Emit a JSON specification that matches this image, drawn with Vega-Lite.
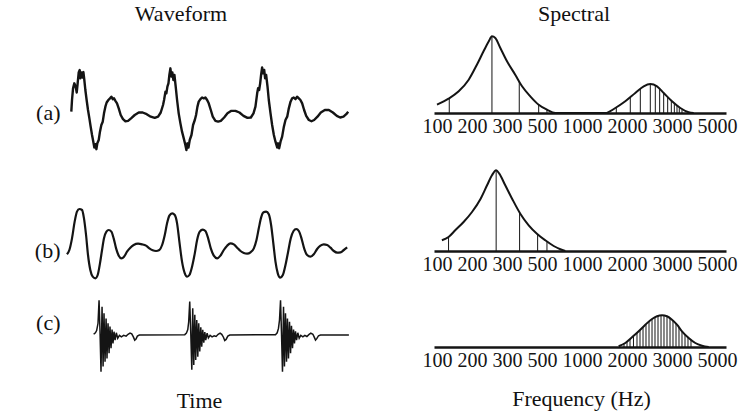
{
  "$schema": "https://vega.github.io/schema/vega-lite/v6.json",
  "autosize": {"type": "pad"},
  "padding": {"left": 34, "top": 3, "right": 5, "bottom": 5},
  "background": "white",
  "bounds": "full",
  "spacing": 70,
  "config": {
    "view": {"stroke": null},
    "font": "Liberation Serif",
    "title": {"font": "Liberation Serif", "fontSize": 22, "fontWeight": "normal", "color": "#111"},
    "axis": {"titleFont": "Liberation Serif", "titleFontSize": 22, "titleFontWeight": "normal", "titleColor": "#111", "labelFont": "Liberation Serif", "grid": false}
  },
  "datasets": {
    "waveA": [
      {"t":0.81,"v":-0.08},{"t":0.87,"v":0.2},{"t":0.96,"v":0.48},{"t":1.07,"v":0.6},{"t":1.19,"v":0.52},{"t":1.28,"v":0.38},{"t":1.36,"v":0.6},{"t":1.45,"v":0.86},{"t":1.54,"v":0.92},{"t":1.59,"v":0.72},{"t":1.68,"v":0.86},{"t":1.77,"v":0.74},{"t":1.86,"v":0.87},{"t":1.94,"v":0.68},{"t":2.03,"v":0.44},{"t":2.14,"v":0.2},{"t":2.26,"v":-0.04},{"t":2.38,"v":-0.24},{"t":2.49,"v":-0.44},{"t":2.61,"v":-0.64},{"t":2.72,"v":-0.8},{"t":2.81,"v":-0.94},{"t":2.9,"v":-0.86},{"t":2.99,"v":-0.98},{"t":3.07,"v":-0.84},{"t":3.19,"v":-0.76},{"t":3.3,"v":-0.56},{"t":3.42,"v":-0.4},{"t":3.54,"v":-0.32},{"t":3.65,"v":-0.12},{"t":3.77,"v":0.04},{"t":3.88,"v":0.14},{"t":4.03,"v":0.2},{"t":4.17,"v":0.24},{"t":4.29,"v":0.28},{"t":4.41,"v":0.22},{"t":4.52,"v":0.24},{"t":4.64,"v":0.18},{"t":4.78,"v":0.12},{"t":4.93,"v":0},{"t":5.1,"v":-0.16},{"t":5.3,"v":-0.26},{"t":5.51,"v":-0.31},{"t":5.74,"v":-0.3},{"t":6.0,"v":-0.24},{"t":6.32,"v":-0.16},{"t":6.67,"v":-0.1},{"t":7.01,"v":-0.1},{"t":7.36,"v":-0.14},{"t":7.71,"v":-0.2},{"t":8.06,"v":-0.23},{"t":8.35,"v":-0.2},{"t":8.58,"v":-0.1},{"t":8.78,"v":0.08},
      {"t":8.87,"v":0.2},{"t":8.99,"v":0.4},{"t":9.07,"v":0.36},{"t":9.16,"v":0.52},{"t":9.25,"v":0.6},{"t":9.33,"v":0.8},{"t":9.42,"v":0.96},{"t":9.51,"v":0.76},{"t":9.59,"v":0.86},{"t":9.68,"v":0.68},{"t":9.77,"v":0.8},{"t":9.88,"v":0.52},{"t":10.0,"v":0.2},{"t":10.14,"v":-0.12},{"t":10.29,"v":-0.36},{"t":10.43,"v":-0.56},{"t":10.58,"v":-0.72},{"t":10.72,"v":-0.88},{"t":10.81,"v":-1.0},{"t":10.9,"v":-0.84},{"t":10.99,"v":-0.94},{"t":11.1,"v":-0.76},{"t":11.25,"v":-0.64},{"t":11.39,"v":-0.4},{"t":11.54,"v":-0.28},{"t":11.65,"v":-0.16},{"t":11.77,"v":0.04},{"t":11.88,"v":0.16},{"t":12.03,"v":0.22},{"t":12.17,"v":0.26},{"t":12.32,"v":0.24},{"t":12.46,"v":0.26},{"t":12.61,"v":0.2},{"t":12.75,"v":0.12},{"t":12.93,"v":-0.04},{"t":13.1,"v":-0.2},{"t":13.33,"v":-0.3},{"t":13.57,"v":-0.32},{"t":13.8,"v":-0.3},{"t":14.09,"v":-0.22},{"t":14.38,"v":-0.12},{"t":14.72,"v":-0.06},{"t":15.07,"v":-0.06},{"t":15.42,"v":-0.1},{"t":15.77,"v":-0.18},{"t":16.12,"v":-0.23},{"t":16.41,"v":-0.22},{"t":16.64,"v":-0.12},{"t":16.81,"v":0.04},
      {"t":16.96,"v":0.36},{"t":17.04,"v":0.48},{"t":17.13,"v":0.44},{"t":17.22,"v":0.6},{"t":17.3,"v":0.8},{"t":17.39,"v":0.98},{"t":17.48,"v":0.84},{"t":17.57,"v":0.92},{"t":17.65,"v":0.72},{"t":17.74,"v":0.8},{"t":17.86,"v":0.52},{"t":17.97,"v":0.2},{"t":18.12,"v":-0.12},{"t":18.26,"v":-0.4},{"t":18.41,"v":-0.64},{"t":18.55,"v":-0.8},{"t":18.7,"v":-0.94},{"t":18.78,"v":-0.84},{"t":18.87,"v":-0.96},{"t":18.99,"v":-0.8},{"t":19.13,"v":-0.68},{"t":19.28,"v":-0.44},{"t":19.42,"v":-0.28},{"t":19.57,"v":-0.2},{"t":19.71,"v":0.0},{"t":19.86,"v":0.16},{"t":20.0,"v":0.24},{"t":20.14,"v":0.26},{"t":20.29,"v":0.22},{"t":20.43,"v":0.28},{"t":20.58,"v":0.24},{"t":20.72,"v":0.2},{"t":20.87,"v":0.12},{"t":21.04,"v":-0.04},{"t":21.22,"v":-0.18},{"t":21.45,"v":-0.28},{"t":21.68,"v":-0.31},{"t":21.91,"v":-0.28},{"t":22.2,"v":-0.2},{"t":22.49,"v":-0.1},{"t":22.84,"v":-0.04},{"t":23.19,"v":-0.04},{"t":23.54,"v":-0.1},{"t":23.88,"v":-0.18},{"t":24.17,"v":-0.22},{"t":24.46,"v":-0.2},{"t":24.7,"v":-0.14},{"t":24.87,"v":-0.08}
    ],
    "waveB": [
      {"t":0.43,"v":-0.28},{"t":0.64,"v":-0.15},{"t":0.87,"v":0.2},{"t":1.1,"v":0.7},{"t":1.3,"v":1.0},{"t":1.51,"v":1.08},{"t":1.74,"v":1.05},{"t":1.91,"v":0.8},{"t":2.09,"v":0.3},{"t":2.26,"v":-0.3},{"t":2.46,"v":-0.75},{"t":2.67,"v":-0.95},{"t":2.9,"v":-1.0},{"t":3.1,"v":-0.9},{"t":3.3,"v":-0.55},{"t":3.48,"v":-0.15},{"t":3.65,"v":0.2},{"t":3.86,"v":0.4},{"t":4.06,"v":0.45},{"t":4.29,"v":0.4},{"t":4.49,"v":0.2},{"t":4.7,"v":-0.1},{"t":4.93,"v":-0.32},{"t":5.16,"v":-0.4},{"t":5.39,"v":-0.35},{"t":5.65,"v":-0.2},{"t":5.94,"v":-0.08},{"t":6.23,"v":0},{"t":6.61,"v":0.04},{"t":6.96,"v":0.02},{"t":7.3,"v":-0.02},{"t":7.59,"v":-0.1},{"t":7.88,"v":-0.16},{"t":8.17,"v":-0.18},{"t":8.46,"v":-0.15},{"t":8.7,"v":0},
      {"t":8.93,"v":0.3},{"t":9.13,"v":0.65},{"t":9.33,"v":0.88},{"t":9.57,"v":0.95},{"t":9.8,"v":0.9},{"t":10.0,"v":0.65},{"t":10.2,"v":0.1},{"t":10.43,"v":-0.5},{"t":10.67,"v":-0.85},{"t":10.87,"v":-0.95},{"t":11.07,"v":-0.9},{"t":11.3,"v":-0.65},{"t":11.54,"v":-0.25},{"t":11.74,"v":0.15},{"t":11.97,"v":0.4},{"t":12.23,"v":0.46},{"t":12.46,"v":0.42},{"t":12.7,"v":0.2},{"t":12.93,"v":-0.1},{"t":13.19,"v":-0.32},{"t":13.48,"v":-0.4},{"t":13.77,"v":-0.32},{"t":14.06,"v":-0.15},{"t":14.35,"v":-0.02},{"t":14.64,"v":0.05},{"t":14.93,"v":0.02},{"t":15.22,"v":-0.08},{"t":15.51,"v":-0.18},{"t":15.8,"v":-0.24},{"t":16.09,"v":-0.26},{"t":16.38,"v":-0.22},{"t":16.67,"v":-0.1},
      {"t":16.9,"v":0.15},{"t":17.1,"v":0.5},{"t":17.3,"v":0.82},{"t":17.51,"v":0.98},{"t":17.74,"v":1.0},{"t":17.97,"v":0.92},{"t":18.17,"v":0.6},{"t":18.38,"v":0},{"t":18.55,"v":-0.5},{"t":18.75,"v":-0.85},{"t":18.96,"v":-0.98},{"t":19.19,"v":-0.9},{"t":19.42,"v":-0.6},{"t":19.65,"v":-0.2},{"t":19.88,"v":0.2},{"t":20.12,"v":0.42},{"t":20.35,"v":0.48},{"t":20.58,"v":0.42},{"t":20.81,"v":0.2},{"t":21.04,"v":-0.1},{"t":21.3,"v":-0.3},{"t":21.59,"v":-0.35},{"t":21.88,"v":-0.28},{"t":22.17,"v":-0.12},{"t":22.46,"v":-0.02},{"t":22.75,"v":0.02},{"t":23.04,"v":0},{"t":23.33,"v":-0.08},{"t":23.62,"v":-0.18},{"t":23.91,"v":-0.23},{"t":24.2,"v":-0.22},{"t":24.49,"v":-0.15},{"t":24.78,"v":-0.07}
    ],
    "waveC": [
      {"t":2.75,"v":0.02},{"t":2.9,"v":0.06},{"t":3.01,"v":0.12},{"t":3.13,"v":0.32},{"t":3.22,"v":0.95},{"t":3.3,"v":0.14},{"t":3.39,"v":-1.0},{"t":3.48,"v":0.77},{"t":3.57,"v":-0.86},{"t":3.65,"v":0.59},{"t":3.74,"v":-0.73},{"t":3.83,"v":0.45},{"t":3.91,"v":-0.64},{"t":4.0,"v":0.32},{"t":4.09,"v":-0.5},{"t":4.17,"v":0.23},{"t":4.26,"v":-0.36},{"t":4.35,"v":0.15},{"t":4.43,"v":-0.23},{"t":4.52,"v":0.09},{"t":4.61,"v":-0.14},{"t":4.72,"v":0.06},{"t":4.84,"v":-0.09},{"t":4.99,"v":-0.01},{"t":5.16,"v":-0.05},{"t":5.36,"v":-0.01},{"t":5.57,"v":-0.03},{"t":5.74,"v":0.02},{"t":5.91,"v":0.05},{"t":6.06,"v":0.03},{"t":6.2,"v":-0.05},{"t":6.32,"v":-0.14},{"t":6.43,"v":-0.11},{"t":6.55,"v":-0.03},{"t":6.72,"v":0},
      {"t":10.67,"v":0.01},{"t":10.81,"v":0.05},{"t":10.93,"v":0.15},{"t":11.01,"v":0.36},{"t":11.1,"v":0.91},{"t":11.19,"v":0.05},{"t":11.28,"v":-0.95},{"t":11.36,"v":0.73},{"t":11.45,"v":-0.82},{"t":11.54,"v":0.55},{"t":11.62,"v":-0.68},{"t":11.71,"v":0.41},{"t":11.8,"v":-0.59},{"t":11.88,"v":0.32},{"t":11.97,"v":-0.45},{"t":12.06,"v":0.21},{"t":12.14,"v":-0.32},{"t":12.23,"v":0.14},{"t":12.32,"v":-0.21},{"t":12.41,"v":0.08},{"t":12.49,"v":-0.14},{"t":12.61,"v":0.05},{"t":12.72,"v":-0.08},{"t":12.87,"v":-0.01},{"t":13.04,"v":-0.05},{"t":13.22,"v":-0.02},{"t":13.39,"v":-0.04},{"t":13.57,"v":0.02},{"t":13.74,"v":0.05},{"t":13.88,"v":0.02},{"t":14.03,"v":-0.06},{"t":14.14,"v":-0.15},{"t":14.26,"v":-0.12},{"t":14.41,"v":-0.03},{"t":14.58,"v":0},
      {"t":18.55,"v":0.01},{"t":18.7,"v":0.06},{"t":18.81,"v":0.18},{"t":18.9,"v":0.41},{"t":18.99,"v":0.95},{"t":19.07,"v":0.09},{"t":19.16,"v":-1.0},{"t":19.25,"v":0.77},{"t":19.33,"v":-0.86},{"t":19.42,"v":0.59},{"t":19.51,"v":-0.73},{"t":19.59,"v":0.45},{"t":19.68,"v":-0.64},{"t":19.77,"v":0.36},{"t":19.86,"v":-0.5},{"t":19.94,"v":0.25},{"t":20.03,"v":-0.36},{"t":20.12,"v":0.15},{"t":20.2,"v":-0.23},{"t":20.29,"v":0.1},{"t":20.38,"v":-0.14},{"t":20.49,"v":0.06},{"t":20.61,"v":-0.09},{"t":20.75,"v":-0.01},{"t":20.93,"v":-0.05},{"t":21.1,"v":-0.01},{"t":21.28,"v":-0.04},{"t":21.45,"v":0.01},{"t":21.62,"v":0.05},{"t":21.8,"v":0.02},{"t":21.91,"v":-0.05},{"t":22.03,"v":-0.14},{"t":22.14,"v":-0.1},{"t":22.29,"v":-0.02},{"t":22.46,"v":0},{"t":24.93,"v":0}
    ],
    "envA": [
      {"f":100,"db":4.15},{"f":133,"db":7.15},{"f":162,"db":10.85},{"f":190.6,"db":16.65},{"f":214,"db":24.15},{"f":233,"db":30.85},{"f":248,"db":35.85},{"f":257,"db":38.35},{"f":266.6,"db":37.5},{"f":281,"db":32.5},{"f":300,"db":25.85},{"f":347,"db":19.15},{"f":386,"db":13.35},{"f":433,"db":8.35},{"f":481,"db":4.15},{"f":562,"db":1.65},{"f":666,"db":0},
      {"f":1518,"db":0},{"f":1740,"db":2.5},{"f":1962,"db":5.85},{"f":2184,"db":10},{"f":2371,"db":13.35},{"f":2518,"db":14.5},{"f":2667,"db":13.35},{"f":2816,"db":10},{"f":3000,"db":5.85},{"f":3369,"db":2.5},{"f":3742,"db":0.35},{"f":3964,"db":0}
    ],
    "harmA": [
      {"f":135,"db":7.2},{"f":257,"db":38.3},{"f":370,"db":15.5},{"f":481,"db":4.2},{"f":562,"db":1.7},
      {"f":1762,"db":2.8},{"f":2073,"db":7.9},{"f":2296,"db":12},{"f":2518,"db":14.5},{"f":2629,"db":13.7},{"f":2726,"db":12.2},{"f":2815,"db":10},{"f":2904,"db":8},{"f":2985,"db":6.1},{"f":3104,"db":4.6},{"f":3222,"db":3.5},{"f":3324,"db":2.7},{"f":3444,"db":1.7}
    ],
    "envB": [
      {"f":114,"db":5.35},{"f":133,"db":7},{"f":152,"db":10.35},{"f":176,"db":14.5},{"f":200,"db":19.5},{"f":224.7,"db":26.15},{"f":243,"db":32.85},{"f":257,"db":37.85},{"f":269,"db":40.35},{"f":278,"db":38.65},{"f":295,"db":32.85},{"f":329,"db":26.15},{"f":376,"db":18.65},{"f":424,"db":12.85},{"f":471,"db":8.65},{"f":541,"db":5.35},{"f":646,"db":2.5},{"f":729,"db":0.85},{"f":791,"db":0}
    ],
    "harmB": [
      {"f":133,"db":7},{"f":269,"db":40.3},{"f":372,"db":19.2},{"f":475,"db":8.4},{"f":562,"db":4.7}
    ],
    "envC": [
      {"f":1816,"db":0.35},{"f":1962,"db":2},{"f":2111,"db":4.85},{"f":2260,"db":7.85},{"f":2407,"db":11.15},{"f":2556,"db":14},{"f":2667,"db":15.35},{"f":2778,"db":15.85},{"f":2889,"db":15.35},{"f":3000,"db":13.65},{"f":3222,"db":11.15},{"f":3444,"db":7.85},{"f":3741,"db":4.5},{"f":4036,"db":2},{"f":4333,"db":0.65},{"f":4631,"db":0}
    ],
    "harmC": [
      {"f":1933,"db":1.75},{"f":2000,"db":2.6},{"f":2067,"db":4},{"f":2144,"db":5.5},{"f":2222,"db":7},{"f":2289,"db":8.5},{"f":2356,"db":10},{"f":2422,"db":11.5},{"f":2489,"db":12.75},{"f":2556,"db":14},{"f":2622,"db":14.8},{"f":2689,"db":15.45},{"f":2756,"db":15.75},{"f":2822,"db":15.65},{"f":2889,"db":15.35},{"f":2956,"db":14.35},{"f":3044,"db":13.15},{"f":3178,"db":11.65},{"f":3311,"db":9.85},{"f":3444,"db":7.85},{"f":3578,"db":6.15},{"f":3711,"db":4.8},{"f":3844,"db":3.6}
    ]
  },
  "hconcat": [
    {
      "bounds": "flush",
      "spacing": 10,
      "vconcat": [
        {
          "data": {"name": "waveA"},
          "width": 290,
          "height": 165,
          "title": {"text": "Waveform", "anchor": "middle", "dx": -26, "offset": -6, "baseline": "middle"},
          "mark": {"type": "line", "color": "#141414", "strokeWidth": 2.4, "strokeJoin": "round"},
          "encoding": {
            "x": {"field": "t", "type": "quantitative", "scale": {"domain": [0, 25.2], "nice": false, "zero": false}, "axis": null},
            "y": {"field": "v", "type": "quantitative", "scale": {"domain": [-2.08, 1.88], "nice": false, "zero": false},
                  "axis": {"title": "(a)", "domain": false, "ticks": false, "labels": false, "titleAngle": 0, "titleAlign": "right", "titleBaseline": "middle", "titlePadding": 2}}
          }
        },
        {
          "data": {"name": "waveB"},
          "width": 290,
          "height": 80,
          "mark": {"type": "line", "color": "#141414", "strokeWidth": 2.2, "interpolate": "monotone"},
          "encoding": {
            "x": {"field": "t", "type": "quantitative", "scale": {"domain": [0, 25.2], "nice": false, "zero": false}, "axis": null},
            "y": {"field": "v", "type": "quantitative", "scale": {"domain": [-1.2, 1.2], "nice": false, "zero": false},
                  "axis": {"title": "(b)", "domain": false, "ticks": false, "labels": false, "titleAngle": 0, "titleAlign": "right", "titleBaseline": "middle", "titlePadding": 2, "titleY": 45}}
          }
        },
        {
          "data": {"name": "waveC"},
          "width": 290,
          "height": 85,
          "mark": {"type": "line", "color": "#141414", "strokeWidth": 1.5, "strokeJoin": "miter"},
          "encoding": {
            "x": {"field": "t", "type": "quantitative", "scale": {"domain": [0, 25.2], "nice": false, "zero": false},
                  "axis": {"title": "Time", "domain": false, "ticks": false, "labels": false, "titleX": 137, "titleY": 20, "titleAlign": "center", "titleBaseline": "middle"}},
            "y": {"field": "v", "type": "quantitative", "scale": {"domain": [-1.227, 1.091], "nice": false, "zero": false},
                  "axis": {"title": "(c)", "domain": false, "ticks": false, "labels": false, "titleAngle": 0, "titleAlign": "right", "titleBaseline": "middle", "titlePadding": 2, "titleY": 27}}
          }
        }
      ]
    },
    {
      "bounds": "flush",
      "spacing": 50,
      "vconcat": [
        {
          "width": 310,
          "height": 83,
          "title": {"text": "Spectral", "anchor": "middle", "dx": -8, "offset": -6, "baseline": "middle"},
          "layer": [
            {
              "data": {"name": "envA"},
              "mark": {"type": "line", "color": "#141414", "strokeWidth": 2, "interpolate": "monotone"},
              "encoding": {
                "x": {"field": "f", "type": "quantitative",
                      "scale": {"type": "linear", "domain": [90, 100, 200, 300, 500, 1000, 2000, 3000, 5000, 5400], "range": [7, 10, 45, 80, 115, 155, 200, 245, 290, 299], "nice": false, "zero": false},
                      "axis": {"values": [100, 200, 300, 500, 1000, 2000, 3000, 5000], "format": "d", "title": null, "ticks": false, "domainWidth": 2.5, "domainColor": "#141414", "labelFontSize": 20, "labelPadding": 3, "labelColor": "#141414", "labelOverlap": false, "labelFlush": false}},
                "y": {"field": "db", "type": "quantitative", "scale": {"domain": [0, 41.5], "nice": false, "zero": false}, "axis": null}
              }
            },
            {
              "data": {"name": "harmA"},
              "mark": {"type": "rule", "color": "#141414", "strokeWidth": 1},
              "encoding": {
                "x": {"field": "f", "type": "quantitative"},
                "y": {"field": "db", "type": "quantitative"},
                "y2": {"datum": 0}
              }
            }
          ]
        },
        {
          "width": 310,
          "height": 88,
          "layer": [
            {
              "data": {"name": "envB"},
              "mark": {"type": "line", "color": "#141414", "strokeWidth": 2, "interpolate": "monotone"},
              "encoding": {
                "x": {"field": "f", "type": "quantitative",
                      "scale": {"type": "linear", "domain": [90, 100, 200, 300, 500, 1000, 2000, 3000, 5000, 5400], "range": [7, 10, 45, 80, 115, 155, 200, 245, 290, 299], "nice": false, "zero": false},
                      "axis": {"values": [100, 200, 300, 500, 1000, 2000, 3000, 5000], "format": "d", "title": null, "ticks": false, "domainWidth": 2.5, "domainColor": "#141414", "labelFontSize": 20, "labelPadding": 3, "labelColor": "#141414", "labelOverlap": false, "labelFlush": false}},
                "y": {"field": "db", "type": "quantitative", "scale": {"domain": [0, 44], "nice": false, "zero": false}, "axis": null}
              }
            },
            {
              "data": {"name": "harmB"},
              "mark": {"type": "rule", "color": "#141414", "strokeWidth": 1},
              "encoding": {
                "x": {"field": "f", "type": "quantitative"},
                "y": {"field": "db", "type": "quantitative"},
                "y2": {"datum": 0}
              }
            }
          ]
        },
        {
          "width": 310,
          "height": 46,
          "layer": [
            {
              "data": {"name": "envC"},
              "mark": {"type": "line", "color": "#141414", "strokeWidth": 2, "interpolate": "monotone"},
              "encoding": {
                "x": {"field": "f", "type": "quantitative",
                      "scale": {"type": "linear", "domain": [90, 100, 200, 300, 500, 1000, 2000, 3000, 5000, 5400], "range": [7, 10, 45, 80, 115, 155, 200, 245, 290, 299], "nice": false, "zero": false},
                      "axis": {"values": [100, 200, 300, 500, 1000, 2000, 3000, 5000], "format": "d", "title": "Frequency (Hz)", "titleX": 154, "titleY": 51, "titleAlign": "center", "titleBaseline": "middle", "ticks": false, "domainWidth": 2.5, "domainColor": "#141414", "labelFontSize": 20, "labelPadding": 3, "labelColor": "#141414", "labelOverlap": false, "labelFlush": false}},
                "y": {"field": "db", "type": "quantitative", "scale": {"domain": [0, 23], "nice": false, "zero": false}, "axis": null}
              }
            },
            {
              "data": {"name": "harmC"},
              "mark": {"type": "rule", "color": "#141414", "strokeWidth": 1},
              "encoding": {
                "x": {"field": "f", "type": "quantitative"},
                "y": {"field": "db", "type": "quantitative"},
                "y2": {"datum": 0}
              }
            }
          ]
        }
      ]
    }
  ]
}
